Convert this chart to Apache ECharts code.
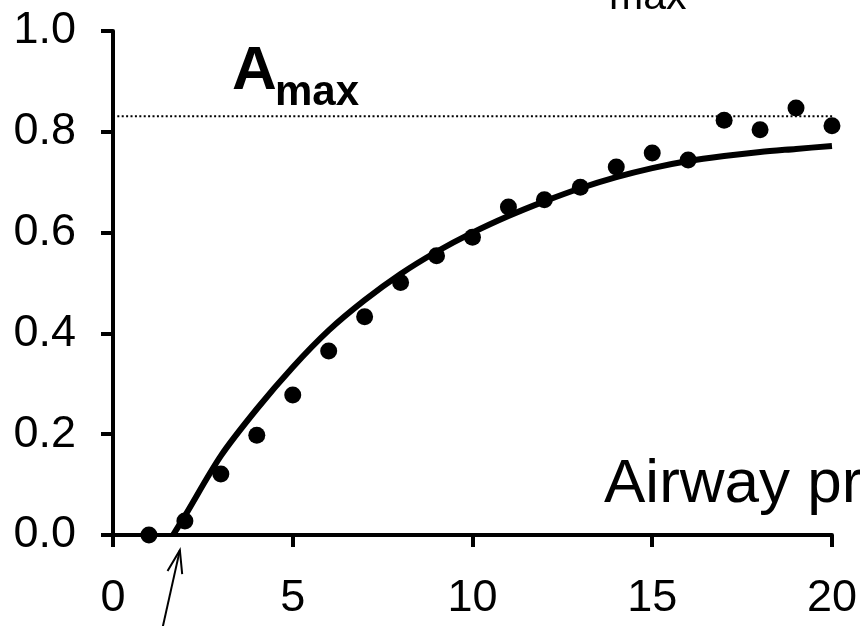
<!DOCTYPE html>
<html><head><meta charset="utf-8">
<script src="https://cdn.jsdelivr.net/npm/echarts@6/dist/echarts.min.js"></script>
<style>html,body{margin:0;padding:0;background:#fff}#c{width:860px;height:626px}</style>
</head><body><div id="c"></div>
<script>
// measured points
const pressure = [1,2,3,4,5,6,7,8,9,10,11,12,13,14,15,16,17,18,19,20];
const fraction = [0.0,0.028,0.121,0.198,0.278,0.365,0.433,0.501,0.554,0.591,0.651,0.665,0.690,0.730,0.758,0.744,0.823,0.804,0.847,0.812];
// fitted curve
const fitX = [1.67,2,3,4,5,6,7,8,9,10,11,12,13,14,15,16,17,18,19,20];
const fitY = [0.0,0.038,0.157,0.250,0.333,0.406,0.466,0.518,0.562,0.600,0.633,0.662,0.688,0.710,0.728,0.742,0.752,0.760,0.766,0.772];
// A_max level
const aMax = 0.831;
const aMaxSpan = [0.12, 20.22];
// arrow (threshold pressure)
const arrowFrom = [1.36, -0.19];
const arrowTo = [1.86, -0.03];

const FONT = 'Liberation Sans, Arial, sans-serif';
const chart = echarts.init(document.getElementById('c'), null, {renderer: 'canvas'});

const option = {
  backgroundColor: '#fff',
  animation: false,
  grid: {left: 113, right: 27, top: 31, bottom: 91, containLabel: false},
  xAxis: {
    type: 'value', min: 0, max: 20, interval: 5,
    axisLine: {show: true, lineStyle: {color: '#000', width: 4}},
    axisTick: {show: true, length: 12, lineStyle: {color: '#000', width: 4}},
    axisLabel: {color: '#000', fontSize: 45, fontFamily: FONT, margin: 41},
    splitLine: {show: false}
  },
  yAxis: {
    type: 'value', min: 0, max: 1, interval: 0.2,
    axisLine: {show: true, lineStyle: {color: '#000', width: 4}},
    axisTick: {show: true, length: 12, lineStyle: {color: '#000', width: 4}},
    axisLabel: {color: '#000', fontSize: 45, fontFamily: FONT, margin: 37,
      formatter: v => v.toFixed(1)},
    splitLine: {show: false}
  },
  series: [
    {
      type: 'line', data: aMaxSpan.map(x => [x, aMax]), clip: false,
      showSymbol: false, symbol: 'none',
      lineStyle: {color: '#000', width: 2, type: [2, 2.4]}, z: 1
    },
    {
      type: 'line', data: fitX.map((x, i) => [x, fitY[i]]), clip: false,
      smooth: 0.3, showSymbol: false, symbol: 'none',
      lineStyle: {color: '#000', width: 6, cap: 'butt', opacity: 1}, z: 2
    },
    {
      type: 'scatter', data: pressure.map((x, i) => [x, fraction[i]]), clip: false,
      symbol: 'circle', symbolSize: 17, itemStyle: {color: '#000', opacity: 1}, z: 3
    }
  ]
};
chart.setOption(option);

const p0 = chart.convertToPixel({gridIndex: 0}, arrowFrom);
const p1 = chart.convertToPixel({gridIndex: 0}, arrowTo);
const dx = p1[0] - p0[0], dy = p1[1] - p0[1];
const len = Math.hypot(dx, dy);
const ux = dx / len, uy = dy / len;
const back = 23, half = 7.5;
const bx = p1[0] - ux * back, by = p1[1] - uy * back;
const left = [bx - uy * half, by + ux * half];
const right = [bx + uy * half, by - ux * half];

chart.setOption({
  graphic: [
    {type: 'line', shape: {x1: p0[0], y1: p0[1], x2: p1[0], y2: p1[1]},
      style: {stroke: '#000', lineWidth: 2}, z: 10},
    {type: 'polyline', shape: {points: [left, p1, right]},
      style: {stroke: '#000', lineWidth: 2, fill: null}, z: 10},
    {type: 'text', x: 232, y: 71.5, z: 10,
      style: {text: 'A', font: 'bold 62px ' + FONT, fill: '#000', verticalAlign: 'middle', align: 'left'}},
    {type: 'text', x: 275, y: 93.5, z: 10,
      style: {text: 'max', font: 'bold 42px ' + FONT, fill: '#000', verticalAlign: 'middle', align: 'left'}},
    {type: 'text', x: 609, y: -2.2, z: 10,
      style: {text: 'max', font: '41px ' + FONT, fill: '#000', verticalAlign: 'middle', align: 'left'}},
    {type: 'text', x: 604, y: 484.5, z: 10,
      style: {text: 'Airway pressure', font: '62px ' + FONT, fill: '#000', verticalAlign: 'middle', align: 'left'}}
  ]
});
</script>
</body></html>
